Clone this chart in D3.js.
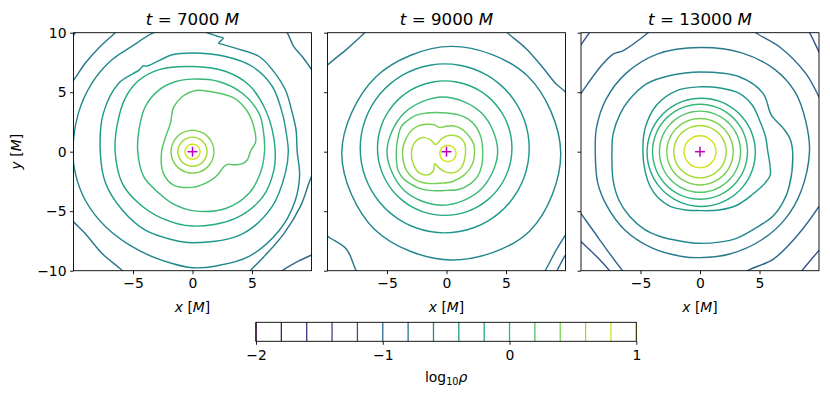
<!DOCTYPE html>
<html><head><meta charset="utf-8">
<script src="https://cdn.jsdelivr.net/npm/d3@7"></script>
<style>
body{margin:0;background:#fff}
svg{display:block}
text{font-family:"DejaVu Sans",sans-serif;fill:#000}
</style>
</head><body>
<svg id="c" width="830" height="398"></svg>
<script>
// ---------------- data ----------------
const times = [7000, 9000, 13000];
const levels = [-2.0,-1.8,-1.6,-1.4,-1.2,-1.0,-0.8,-0.6,-0.4,-0.2,0.0,0.2,0.4,0.6,0.8,1.0];
const xTicks = [-5, 0, 5];
const yTicks = [-10, -5, 0, 5, 10];
const cbarTicks = [-2, -1, 0, 1];
const markers = [[0, 0], [0, 0], [0, 0]];

// contours of log10(rho) (x, y in M); c/r = centre + radii at even angles
const panel1 = [
  {level: 0.8, c: [0, 0], r: 0.63},
  {level: 0.6, c: [0, 0], r: 1.22},
  {level: 0.4, c: [0, 0], r: 1.8},
  {level: 0.2, pts: [[5.3,0.8],[5.15,2.1],[4.6,3.4],[3.5,4.5],[1.8,5.0],[0.3,5.15],[-0.9,4.6],[-1.6,3.7],[-1.85,2.4],[-2.2,1.4],[-2.6,0],[-2.45,-1.8],[-1.6,-2.8],[-0.1,-3.0],[0.6,-2.85],[1.4,-2.5],[2.1,-1.95],[2.6,-1.3],[2.95,-1.05],[3.35,-1.1],[4.2,-1.0],[4.6,-0.7],[4.9,0.1]]},
  {level: 0.0, pts: [[6.05,0],[5.95,1.8],[5.6,3.2],[4.2,4.9],[2.2,5.9],[0,6.1],[-1.4,5.9],[-2.8,5.2],[-3.96,3.8],[-4.5,1.83],[-4.6,0],[-4.1,-2.1],[-2.8,-3.5],[-1.7,-4.35],[0,-4.95],[2.8,-4.77],[4.75,-3.5],[5.7,-1.8]]},
  {level: -0.2, pts: [[6.95,0],[6.85,-1.5],[5.9,-3.8],[3.6,-5.6],[0,-6.25],[-2.55,-5.6],[-4.5,-4.35],[-5.9,-2.66],[-6.5,0],[-6.3,2.4],[-5.6,4.6],[-4.5,6.0],[-2.8,6.9],[0,7.16],[2.8,6.74],[4.75,5.6],[6.0,3.8],[6.7,1.83]]},
  {level: -0.4, pts: [[8.05,0],[7.8,-1.8],[6.7,-4.6],[4.2,-6.9],[0,-7.65],[-1.7,-7.4],[-3.96,-6.6],[-5.9,-4.9],[-7.3,-2.66],[-7.75,0],[-7.5,3.2],[-6.2,5.76],[-4.5,6.85],[-4.15,7.2],[-3.8,7.2],[-1.7,8.15],[0,8.3],[2.78,8.0],[5.03,7.16],[6.7,5.5],[7.56,3.2],[7.84,1.8]]},
  {level: -0.6, pts: [[8.8,0],[9.0,-2.0],[8.6,-4.2],[7.3,-6.6],[4.75,-8.8],[2,-9.6],[0,-9.75],[-1.7,-9.4],[-4.5,-8.3],[-7.3,-6.3],[-9.0,-4.1],[-9.85,-1.8],[-10.05,0],[-9.6,3.2],[-8.45,5.76],[-6.8,7.7],[-5.1,8.85],[-3.25,10],[-1,10.6],[1.24,10],[2.08,9.7],[2.6,9.55],[2.2,9.13],[2.6,9.0],[3.6,8.7],[5.6,8.0],[6.7,6.9],[7.8,5.2],[8.4,3.2],[8.7,1.83]]},
  {level: -0.8, pts: [[-11,0],[-10.5,5.4],[-10,6.0],[-9.0,7.45],[-7.9,8.7],[-6.5,10],[-6,10.5],[0,11.5],[7.5,10.4],[7.95,10],[8.5,8.85],[9.3,7.9],[10,6.9],[10.5,6],[11,2],[10.4,-1.5],[10,-2.1],[9.07,-4.6],[7.67,-6.9],[5.98,-8.85],[4.86,-10],[4.5,-10.5],[0,-11.5],[-5.6,-10.4],[-5.9,-10],[-7.6,-8.56],[-9.0,-6.9],[-10.1,-5.75],[-10.5,-5]]},
  {level: -1.0, open: true, pts: [[-10.4,9.3],[-9.95,9.85],[-9.6,10.4]]},
  {level: -1.0, open: true, pts: [[10.4,-8.5],[9.97,-8.7],[8.9,-9.2],[7.55,-10],[7.1,-10.4]]}
];

const panel2 = [
  {level: 0.8, c: [0.12, -0.15], r: 0.68},
  {level: 0.6, pts: [[1.6,-0.1],[1.5,0.75],[1.05,1.25],[0.3,1.38],[-0.35,1.15],[-0.9,0.6],[-1.35,1.0],[-2.0,1.2],[-2.65,0.8],[-2.95,-0.1],[-2.75,-1.15],[-2.25,-1.8],[-1.6,-1.95],[-1.1,-1.6],[-1.0,-1.0],[-0.7,-1.3],[-0.2,-1.65],[0.5,-1.78],[1.2,-1.4]]},
  {level: 0.4, pts: [[2.35,-0.14],[2.3,0.6],[1.93,1.26],[1.3,1.9],[0.53,2.18],[-0.2,2.1],[-0.6,2.04],[-1.0,2.25],[-1.7,2.3],[-2.5,2.1],[-3.1,1.6],[-3.6,0.6],[-3.7,-0.14],[-3.4,-1.5],[-2.7,-2.3],[-1.7,-2.65],[-0.5,-2.65],[0.53,-2.5],[1.5,-1.95],[2.15,-1.1]]},
  {level: 0.2, pts: [[3.04,0],[2.9,1.2],[2.49,2.1],[1.8,2.75],[1.09,3.07],[0,3.25],[-0.87,3.3],[-1.7,3.25],[-2.54,3.07],[-3.3,2.6],[-3.8,2.1],[-4.1,1.1],[-4.22,0],[-4.08,-1.54],[-3.6,-2.3],[-3.1,-2.65],[-2.2,-3.1],[-1.15,-3.27],[0,-3.25],[1.09,-3.16],[2.0,-2.7],[2.6,-2.1],[2.95,-1.2]]},
  {level: 0.0, c: [-0.3, 0], r: [4.6,4.6,4.6,4.6,4.7,4.6,4.5,4.5]},
  {level: -0.2, c: [-0.15, 0.3], r: 5.65},
  {level: -0.4, c: [-0.15, 0.28], r: 7.1},
  {level: -0.6, c: [0.4, -0.1], r: [9.2,9.1,8.95,9.0,9.2,9.1,9.0,9.3]},
  {level: -0.8, pts: [[-11,0],[-10.5,6.7],[-9.97,7.3],[-8.4,8.6],[-6.9,9.97],[-6.4,10.5],[0,11.5],[4.7,10.4],[5.14,9.97],[6.7,8.66],[8.07,7.1],[9.2,5.7],[10,5.0],[10.5,4],[11,0],[10.5,-6.3],[10,-7.0],[9.2,-8.3],[8.3,-9.97],[7.9,-10.5],[0,-11.5],[-7.2,-10.5],[-7.6,-9.97],[-8.4,-8.2],[-9.97,-7.1],[-10.5,-6.5]]},
  {level: -1.0, open: true, pts: [[10.4,-8.4],[10,-8.7],[9.3,-9.97],[9.0,-10.4]]}
];

const panel3 = [
  {level: 0.8, c: [0, 0], r: 1.34},
  {level: 0.6, c: [0, 0], r: 2.2},
  {level: 0.4, c: [0, 0], r: 2.79},
  {level: 0.2, c: [0, 0], r: 3.41},
  {level: 0.0, c: [0, 0], r: 3.99},
  {level: -0.2, c: [0.1, -0.05], r: 4.55},
  {level: -0.4, pts: [[5.7,0],[5.5,1.3],[5.1,2.4],[4.4,3.9],[3.3,4.9],[1.7,5.35],[0,5.45],[-1.9,5.15],[-3.66,3.9],[-4.6,2.0],[-4.8,0],[-4.6,-1.7],[-4.2,-2.9],[-3.5,-3.9],[-2.5,-4.6],[-1.2,-4.9],[0,-4.95],[1.6,-4.9],[3.1,-4.5],[4.4,-3.6],[5.5,-2.6],[5.9,-1.95],[5.85,-0.9]]},
  {level: -0.6, pts: [[7.8,-0.4],[7.6,1.0],[7.0,1.96],[6.0,3.07],[5.3,4.9],[3.3,6.3],[0,6.7],[-2.5,6.4],[-4.5,5.7],[-6.0,4.3],[-6.7,3.2],[-7.3,1.5],[-7.4,0],[-7.3,-2.4],[-6.8,-4.1],[-5.9,-5.45],[-4.7,-6.5],[-3.4,-7.1],[-1.7,-7.5],[0,-7.7],[1.6,-7.6],[3.0,-7.3],[4.7,-6.4],[6.1,-5.45],[7.0,-4.2],[7.5,-2.9]]},
  {level: -0.8, pts: [[9.2,0],[8.9,2.5],[8.0,5.0],[6.3,6.9],[3.5,8.3],[0,8.75],[-3.6,8.2],[-6.2,6.6],[-7.9,4.4],[-8.7,2.0],[-8.8,0],[-8.6,-2.6],[-7.8,-4.6],[-6.3,-6.6],[-4.0,-8.1],[-1.5,-8.8],[0,-8.9],[2.5,-8.6],[5.2,-7.4],[7.2,-5.6],[8.5,-3.3]]},
  {level: -1.0, pts: [[-11,0],[-10.5,4.2],[-10,4.9],[-8.4,7.1],[-7.3,8.2],[-6.45,8.5],[-4.36,10],[-3.8,10.5],[0,11.5],[4.2,10.5],[4.7,10],[6.7,8.8],[8.9,6.56],[10,4.6],[10.5,3.5],[11,0],[10.5,-3.8],[10,-4.6],[8.3,-6.9],[6.2,-9.0],[4.0,-10],[3.4,-10.5],[0,-11.5],[-6,-10.5],[-6.5,-10],[-8.5,-7.3],[-10,-5.2],[-10.5,-4.5]]},
  {level: -1.2, open: true, pts: [[-10.4,8.6],[-10,9.0],[-9.3,10],[-9.0,10.4]]},
  {level: -1.2, open: true, pts: [[8.9,10.4],[9.2,10],[10,8.4],[10.3,7.9]]},
  {level: -1.2, open: true, pts: [[-10.4,-7.1],[-10,-7.55],[-8.6,-8.9],[-7.6,-10],[-7.3,-10.4]]},
  {level: -1.2, open: true, pts: [[10.4,-7.9],[10,-8.3],[8.56,-10],[8.2,-10.4]]}
];
const panels = [panel1, panel2, panel3];

// ---------------- layout ----------------
const svg = d3.select("#c");
const W = 238, H = 238, topY = 32.7;
const lefts = [73.5, 327.5, 581];
const color = v => d3.interpolateViridis((v - levels[0]) / (levels[levels.length-1] - levels[0]));
const tickFont = 13.9;
const titleFont = 16.7;

function shapePoints(s) {
  if (s.pts) return s.pts;
  const rr = Array.isArray(s.r) ? s.r : d3.range(36).map(() => s.r);
  const n = rr.length;
  return rr.map((r, i) => [s.c[0] + r * Math.cos(2 * Math.PI * i / n), s.c[1] + r * Math.sin(2 * Math.PI * i / n)]);
}
const minus = d => String(d).replace("-", "\u2212");

panels.forEach((shapes, pi) => {
  const L = lefts[pi];
  const x = d3.scaleLinear().domain([-10, 10]).range([L, L + W]);
  const y = d3.scaleLinear().domain([-10, 10]).range([topY + H, topY]);
  const g = svg.append("g");
  const cid = "clip" + pi;
  svg.append("clipPath").attr("id", cid).append("rect")
    .attr("x", L).attr("y", topY).attr("width", W).attr("height", H);
  const cg = g.append("g").attr("clip-path", `url(#${cid})`);
  const closedLine = d3.line().x(d => x(d[0])).y(d => y(d[1])).curve(d3.curveCatmullRomClosed.alpha(0.5));
  const openLine = d3.line().x(d => x(d[0])).y(d => y(d[1])).curve(d3.curveCatmullRom.alpha(0.5));
  cg.selectAll("path.ct").data(shapes).join("path")
    .attr("class", "ct")
    .attr("d", s => (s.open ? openLine : closedLine)(shapePoints(s)))
    .attr("fill", "none")
    .attr("stroke", s => color(s.level))
    .attr("stroke-width", 1.45);

  // marker
  const m = markers[pi];
  const mg = g.append("g").attr("stroke", "#bf00bf").attr("stroke-width", 1.5);
  mg.append("line").attr("x1", x(m[0]) - 5).attr("x2", x(m[0]) + 5).attr("y1", y(m[1])).attr("y2", y(m[1]));
  mg.append("line").attr("x1", x(m[0])).attr("x2", x(m[0])).attr("y1", y(m[1]) - 5).attr("y2", y(m[1]) + 5);

  // axes
  const xa = g.append("g").attr("transform", `translate(0,${topY + H})`)
    .call(d3.axisBottom(x).tickValues(xTicks).tickSize(3.5).tickPadding(3.5).tickFormat(minus));
  const ya = g.append("g").attr("transform", `translate(${L},0)`)
    .call(d3.axisLeft(y).tickValues(yTicks).tickSize(3.5).tickPadding(3.5).tickFormat(d => pi === 0 ? minus(d) : ""));
  [xa, ya].forEach(a => {
    a.select(".domain").remove();
    a.selectAll("line").attr("stroke", "#000").attr("stroke-width", 0.9);
    a.selectAll("text").attr("font-size", tickFont).attr("font-family", "DejaVu Sans").attr("fill", "#000");
  });
  g.append("rect").attr("x", L).attr("y", topY).attr("width", W).attr("height", H)
    .attr("fill", "none").attr("stroke", "#000").attr("stroke-width", 0.9);

  // title
  const t = g.append("text").attr("x", L + W / 2).attr("y", 24.5).attr("text-anchor", "middle").attr("font-size", titleFont);
  t.append("tspan").attr("font-style", "italic").text("t");
  t.append("tspan").text(" =  " + times[pi] + " ");
  t.append("tspan").attr("font-style", "italic").text("M");

  // x label
  const xl = g.append("text").attr("x", L + W / 2).attr("y", 312).attr("text-anchor", "middle").attr("font-size", tickFont);
  xl.append("tspan").attr("font-style", "italic").text("x");
  xl.append("tspan").text(" [");
  xl.append("tspan").attr("font-style", "italic").text("M");
  xl.append("tspan").text("]");
  if (pi === 0) {
    const yl = g.append("text").attr("transform", `translate(20.5,${topY + H / 2}) rotate(-90)`).attr("text-anchor", "middle").attr("font-size", tickFont);
    yl.append("tspan").attr("font-style", "italic").text("y");
    yl.append("tspan").text(" [");
    yl.append("tspan").attr("font-style", "italic").text("M");
    yl.append("tspan").text("]");
  }
});

// ---------------- colorbar ----------------
const cb = {x0: 256, x1: 636.3, y0: 322.3, y1: 341.3};
const cx = d3.scaleLinear().domain([levels[0], levels[levels.length - 1]]).range([cb.x0, cb.x1]);
const cbg = svg.append("g");
cbg.selectAll("line.lv").data(levels).join("line").attr("class", "lv")
  .attr("x1", d => cx(d)).attr("x2", d => cx(d)).attr("y1", cb.y0).attr("y2", cb.y1)
  .attr("stroke", d => color(d)).attr("stroke-width", 1.3);
cbg.append("rect").attr("x", cb.x0).attr("y", cb.y0).attr("width", cb.x1 - cb.x0).attr("height", cb.y1 - cb.y0)
  .attr("fill", "none").attr("stroke", "#000").attr("stroke-width", 0.9);
const cba = cbg.append("g").attr("transform", `translate(0,${cb.y1})`)
  .call(d3.axisBottom(cx).tickValues(cbarTicks).tickSize(3.5).tickPadding(5).tickFormat(minus));
cba.select(".domain").remove();
cba.selectAll("line").attr("stroke", "#000").attr("stroke-width", 0.9);
cba.selectAll("text").attr("font-size", tickFont).attr("font-family", "DejaVu Sans").attr("fill", "#000");
const cl = cbg.append("text").attr("x", (cb.x0 + cb.x1) / 2).attr("y", 381.5).attr("text-anchor", "middle").attr("font-size", tickFont);
cl.append("tspan").text("log");
cl.append("tspan").attr("font-size", 9.7).attr("dy", 3).text("10");
cl.append("tspan").attr("font-style", "italic").attr("dy", -3).text("ρ");
</script>
</body></html>
